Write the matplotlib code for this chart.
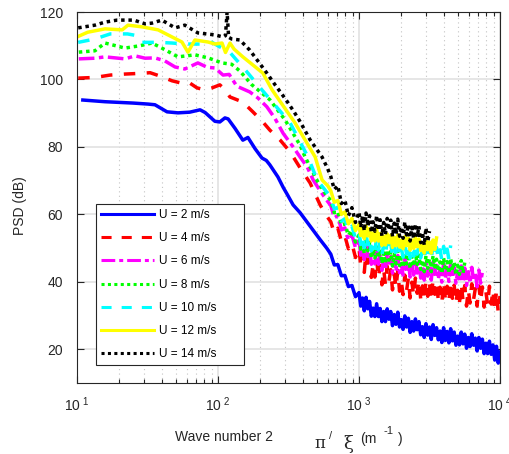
import matplotlib
matplotlib.use('Agg')
import matplotlib.pyplot as plt
from matplotlib.ticker import FixedLocator, FixedFormatter, LogLocator, NullFormatter

plt.rcParams['font.family'] = ['Liberation Sans', 'DejaVu Sans']
plt.rcParams['mathtext.fontset'] = 'custom'
plt.rcParams['mathtext.rm'] = 'Liberation Sans'

speeds = [2, 4, 6, 8, 10, 12, 14]

# common wavenumber grid (m^-1) for the noisy high-k end of every spectrum
k_tail = [631, 668, 708, 750, 794, 841, 891, 944,
          1000, 1029, 1059, 1090, 1122, 1155, 1189, 1223, 1259, 1296,
          1334, 1373, 1413, 1454, 1496, 1540, 1585, 1631, 1679, 1728,
          1778, 1830, 1884, 1939, 1995, 2054, 2113, 2175, 2239, 2304,
          2371, 2441, 2512, 2585, 2661, 2738, 2818, 2901, 2985, 3073,
          3162, 3255, 3350, 3447, 3548, 3652, 3758, 3868, 3981, 4097,
          4217, 4340, 4467, 4597, 4732, 4870, 5012, 5158, 5309, 5464,
          5623, 5788, 5957, 6131, 6310, 6494, 6683, 6879, 7079, 7286,
          7499, 7718, 7943, 8175, 8414, 8660, 8913, 9173, 9441, 9716,
          10000]

# U = 2 m/s
u2_k = [11, 15.8, 25, 31.9, 35.7, 43.5, 52, 63, 74.6, 81, 95, 103, 112, 118, 132,
        150, 163, 183, 205, 220, 233, 266, 290, 309, 341, 382, 450, 530, 590]
u2_psd = [93.9, 93.4, 93.0, 92.7, 92.5, 90.4, 90.1, 90.3, 91.0, 90.2, 87.6, 87.4,
          88.6, 88.3, 85.5, 82.0, 82.8, 79.5, 76.7, 76.0, 74.7, 71.1, 68.0, 66.0,
          62.8, 60.5, 56.5, 52.5, 50.0]
u2_tail = [48.2, 45.0, 45.1, 41.8, 41.9, 38.6, 38.9, 35.6,
           36.8, 32.8, 35.2, 31.4, 35.4, 32.0, 34.2, 29.8, 32.2, 29.7,
           33.5, 29.7, 32.1, 28.2, 31.2, 28.2, 32.0, 28.9, 31.2, 27.0,
           30.3, 27.4, 31.0, 26.6, 28.8, 25.9, 29.9, 26.6, 29.2, 25.0,
           28.2, 25.4, 29.0, 25.8, 28.2, 24.3, 26.7, 23.5, 27.6, 24.2,
           26.6, 22.9, 27.3, 24.1, 26.4, 22.8, 25.4, 22.0, 26.4, 22.6,
           25.3, 21.9, 26.1, 22.5, 25.1, 21.2, 23.9, 21.3, 25.1, 21.6,
           24.5, 20.3, 23.5, 20.8, 24.6, 21.2, 23.3, 19.5, 23.5, 20.3,
           23.0, 18.7, 21.8, 18.7, 22.4, 18.5, 21.3, 16.8, 20.9, 15.9,
           19.2]

# U = 4 m/s
u4_k = [10.2, 13.4, 17.2, 21.9, 27.9, 33, 38.8, 47.2, 54, 61.2, 71, 81, 90.7, 103,
        112, 121.6, 136, 150, 176.7, 208, 233, 275, 325, 382, 450, 530, 590]
u4_psd = [100.4, 100.6, 101.3, 101.6, 101.8, 102.0, 101.0, 99.6, 99.0, 99.3, 97.5,
          96.9, 97.5, 98.4, 97.0, 94.8, 94.0, 93.3, 90.4, 87.4, 85.0, 82.1, 78.5,
          73.8, 69.3, 62.8, 59.5]
u4_tail = [57.8, 54.4, 55.9, 52.0, 53.6, 49.8, 51.4, 47.2,
           50.1, 44.5, 48.2, 42.8, 48.9, 44.0, 47.5, 41.3, 45.0, 41.4,
           46.8, 41.2, 44.8, 39.1, 43.7, 39.2, 44.6, 40.2, 43.6, 37.6,
           42.3, 38.2, 43.4, 37.2, 40.3, 36.2, 42.0, 37.4, 41.1, 35.2,
           39.9, 35.9, 41.1, 36.6, 40.5, 35.0, 38.8, 34.3, 40.5, 35.7,
           39.6, 34.3, 40.8, 36.3, 39.6, 34.6, 38.4, 33.7, 40.1, 34.9,
           38.7, 34.0, 40.1, 35.1, 39.0, 33.6, 37.5, 33.8, 39.5, 34.5,
           38.9, 32.8, 37.7, 33.7, 39.4, 34.7, 38.0, 32.8, 38.8, 34.3,
           38.5, 32.5, 37.1, 33.1, 38.7, 33.4, 37.6, 31.3, 37.4, 30.8,
           35.8]

# U = 6 m/s
u6_k = [10.3, 13.4, 15.8, 21.9, 25.8, 30.4, 35.7, 42, 49.6, 58.2, 72, 84, 95.3,
        108.6, 120, 136, 168, 192, 222, 253, 290, 341, 382, 430, 473, 530, 590]
u6_psd = [106.1, 106.3, 106.7, 106.1, 107.0, 106.3, 106.4, 105.5, 103.7, 103.1,
          104.9, 103.6, 103.4, 101.3, 101.5, 98.0, 96.3, 94.5, 91.9, 88.5, 84.0,
          80.0, 77.0, 74.0, 70.2, 67.0, 64.2]
u6_tail = [62.6, 59.0, 59.6, 55.4, 56.0, 52.3, 53.9, 50.1,
           52.7, 47.9, 51.1, 46.6, 51.7, 47.5, 50.5, 45.2, 48.4, 45.3,
           49.8, 45.2, 48.2, 43.4, 47.1, 43.6, 48.2, 44.6, 47.5, 42.6,
           46.7, 43.3, 47.8, 42.7, 45.4, 42.0, 47.0, 43.1, 46.3, 41.4,
           45.4, 42.0, 46.5, 42.6, 45.9, 41.1, 44.4, 40.5, 45.7, 41.7,
           44.9, 40.5, 45.9, 42.2, 44.9, 40.7, 43.9, 39.9, 45.4, 40.9,
           44.2, 40.1, 45.3, 41.1, 44.3, 39.6, 43.1, 39.9, 44.7, 40.4,
           44.1, 38.9, 43.0, 39.6, 44.3, 40.3, 43.0, 38.5, 43.5, 39.6,
           43.0]

# U = 8 m/s
u8_k = [10.3, 13.4, 15.8, 21.9, 27.9, 34, 40, 52, 68.6, 85, 106.8, 125, 143, 173,
        233, 299, 382, 415, 505, 580]
u8_psd = [108.1, 108.5, 110.8, 109.3, 110.0, 110.8, 109.3, 106.7, 107.3, 106.4,
          104.9, 104.5, 102.5, 98.5, 94.0, 88.0, 80.5, 77.0, 70.0, 66.0]
u8_tail = [64.1, 60.5, 60.9, 56.8, 57.2, 53.8, 55.2, 51.8,
           53.9, 49.7, 52.4, 48.4, 52.8, 49.2, 51.7, 47.1, 49.7, 47.1,
           51.0, 47.0, 49.6, 45.4, 48.6, 45.5, 49.5, 46.4, 49.0, 44.7,
           48.2, 45.3, 49.2, 44.8, 47.2, 44.3, 48.6, 45.3, 48.1, 43.9,
           47.5, 44.6, 48.5, 45.1, 47.9, 43.7, 46.5, 43.0, 47.7, 44.0,
           46.8, 43.0, 47.7, 44.4, 46.7, 43.1, 45.9, 42.4, 47.1, 43.2,
           46.0, 42.5, 47.0, 43.3, 46.0, 42.0, 44.9, 42.2, 46.3, 42.6,
           45.7]

# U = 10 m/s
u10_k = [10.2, 13.4, 17.2, 22.8, 26.5, 28.9, 38, 47.2, 58, 75, 90.7, 106.8, 121.6,
         163, 205, 325, 435, 505, 580]
u10_psd = [111.0, 112.0, 113.5, 113.5, 113.0, 111.0, 111.0, 110.8, 110.5, 110.5,
           111.0, 109.3, 108.0, 101.9, 96.9, 87.1, 77.0, 70.2, 67.0]
u10_tail = [65.0, 61.6, 62.1, 58.0, 58.7, 55.1, 56.5, 52.8,
            54.7, 51.1, 53.5, 50.1, 54.0, 51.0, 53.2, 49.2, 51.7, 49.4,
            53.0, 49.4, 51.8, 48.1, 51.0, 48.3, 51.8, 49.1, 51.4, 47.6,
            50.8, 48.2, 51.8, 47.8, 50.0, 47.3, 51.2, 48.2, 50.8, 47.0,
            50.1, 47.6, 51.0, 48.2, 50.6, 47.1, 49.5, 46.6, 50.8, 47.6,
            50.1, 46.6, 50.9, 48.0, 50.2, 46.9, 49.5, 46.4, 50.5, 47.1,
            49.7, 46.7, 50.8]

# U = 12 m/s
u12_k = [10, 11.9, 15.8, 20.9, 23, 28.9, 37.6, 47.2, 55.5, 61.2, 68.6, 85, 95.3,
         106.8, 113, 121.6, 130, 150, 208, 242, 352, 489, 547, 600]
u12_psd = [112.6, 114.0, 115.0, 114.7, 116.1, 115.6, 114.7, 112.6, 111.1, 108.1,
           111.7, 111.1, 110.5, 110.8, 108.0, 110.8, 109.0, 106.7, 101.9, 96.9,
           87.1, 77.0, 70.2, 68.5]
u12_tail = [67.0, 63.6, 64.1, 60.0, 60.7, 57.2, 58.8, 55.2,
            57.1, 53.7, 56.0, 52.8, 56.6, 53.6, 55.8, 52.1, 54.5, 52.1,
            55.5, 52.1, 54.3, 50.8, 53.5, 50.9, 54.2, 51.6, 53.8, 50.2,
            53.2, 50.7, 54.0, 50.3, 52.3, 49.8, 53.4, 50.7, 53.0, 49.4,
            52.4, 49.9, 53.2, 50.4, 52.7, 49.3, 51.1, 48.5, 52.3, 49.5,
            51.8, 48.5, 52.4, 49.6, 53.0]

# U = 14 m/s
u14_k = [10.2, 13.4, 15.8, 19.3, 25.3, 30.4, 34, 40, 49.6, 58.2, 72, 95.3, 108.6,
         113, 116, 119, 125, 143, 168, 222, 253, 280, 309, 345, 382, 450, 547, 600]
u14_psd = [115.3, 116.1, 117.0, 117.6, 117.6, 116.5, 116.7, 117.6, 115.3, 116.1,
           113.8, 113.2, 112.6, 113.0, 120.0, 112.5, 112.0, 111.7, 108.7, 101.9,
           98.5, 96.0, 93.5, 90.5, 87.5, 82.1, 77.0, 73.5]
u14_tail = [71.2, 67.4, 68.5, 63.2, 64.2, 59.6, 62.0, 57.6,
            60.7, 56.1, 59.5, 55.1, 60.4, 56.5, 59.6, 54.6, 57.8, 55.0,
            59.7, 55.2, 58.4, 53.6, 57.6, 54.1, 58.8, 55.3, 58.3, 53.4,
            57.4, 54.1, 58.6, 53.5, 56.3, 52.9, 57.8, 53.9, 57.0, 52.1,
            56.2, 52.8, 57.2, 53.3, 56.5, 51.6, 54.7, 50.9, 56.0, 51.9,
            55.0]

heads_k = [u2_k, u4_k, u6_k, u8_k, u10_k, u12_k, u14_k]
heads_psd = [u2_psd, u4_psd, u6_psd, u8_psd, u10_psd, u12_psd, u14_psd]
tails = [u2_tail, u4_tail, u6_tail, u8_tail, u10_tail, u12_tail, u14_tail]

colors = ['#0000ff', '#ff0000', '#ff00ff', '#00ff00', '#00ffff', '#ffff00', '#000000']
styles = ['-', (0, (3.3, 3.3)), (0, (4.5, 1.3, 1.3, 1.3)), (0, (1, 1.1)),
          (0, (3.3, 3.3)), '-', (0, (1, 1.1))]

fig = plt.figure(figsize=(5.09, 4.54), dpi=100)
ax = fig.add_axes([77 / 509, 1 - 383 / 454, 423 / 509, 371 / 454])

for hk, hp, tl, u, c, ls in zip(heads_k, heads_psd, tails, speeds, colors, styles):
    k = hk + k_tail[:len(tl)]
    psd = hp + tl
    ax.plot(k, psd, color=c, linestyle=ls, linewidth=2.5,
            label='U = %d m/s       ' % u)

ax.set_xscale('log')
ax.set_xlim(10, 10000)
ax.set_ylim(10, 120)

ax.xaxis.set_major_locator(FixedLocator([10, 100, 1000, 10000]))
ax.xaxis.set_major_formatter(FixedFormatter([r'$\mathregular{10^{\ 1}}$',
                                             r'$\mathregular{10^{\ 2}}$',
                                             r'$\mathregular{10^{\ 3}}$',
                                             r'$\mathregular{10^{\ 4}}$']))
ax.xaxis.set_minor_locator(LogLocator(base=10, subs=range(2, 10)))
ax.xaxis.set_minor_formatter(NullFormatter())
ax.set_yticks([20, 40, 60, 80, 100, 120])

ax.set_axisbelow(True)
ax.grid(True, which='major', color='#e2e2e2', linestyle='-', linewidth=1.2)
ax.grid(True, which='minor', axis='x', color='#c4c4c4', linestyle=(0, (1, 3)),
        linewidth=0.8)

ax.tick_params(which='both', direction='in', top=True, right=True, width=0.8,
               colors='#262626')
ax.tick_params(which='major', length=5)
ax.tick_params(which='minor', length=3)
ax.tick_params(axis='x', which='major', labelsize=10, pad=9)
ax.tick_params(axis='y', which='major', labelsize=10, pad=10)
for sp in ax.spines.values():
    sp.set_color('#262626')
    sp.set_linewidth(0.8)

leg = ax.legend(loc='lower left', bbox_to_anchor=(0.045, 0.0485), borderaxespad=0,
                fontsize=8.5, handlelength=4.55, labelspacing=0.95,
                handletextpad=0.42, fancybox=False, framealpha=1,
                edgecolor='#262626')
leg.get_frame().set_linewidth(0.8)
for line in leg.get_lines():
    line.set_linewidth(2.2)

# axis labels
fig.text(20 / 509, 1 - 206 / 454, 'PSD (dB)', rotation=90, ha='center', va='center',
         fontsize=10, color='#262626')
fig.text(224 / 509, 1 - 437 / 454, 'Wave number 2', ha='center', va='center',
         fontsize=10, color='#262626')
fig.text(320 / 509, 1 - 444 / 454, '\u03c0', ha='center', va='center',
         fontsize=12, family='DejaVu Serif', color='#262626')
fig.text(331 / 509, 1 - 436 / 454, '/', ha='center', va='center',
         fontsize=8, color='#262626')
fig.text(348 / 509, 1 - 444 / 454, '\u03be', ha='center', va='center',
         fontsize=13, family='DejaVu Serif', color='#262626')
fig.text(368 / 509, 1 - 439 / 454, '(m', ha='center', va='center',
         fontsize=10, color='#262626')
fig.text(389 / 509, 1 - 431 / 454, '-1', ha='center', va='center',
         fontsize=8, color='#262626')
fig.text(400 / 509, 1 - 439 / 454, ')', ha='center', va='center',
         fontsize=10, color='#262626')

fig.savefig('out.png', dpi=100)
